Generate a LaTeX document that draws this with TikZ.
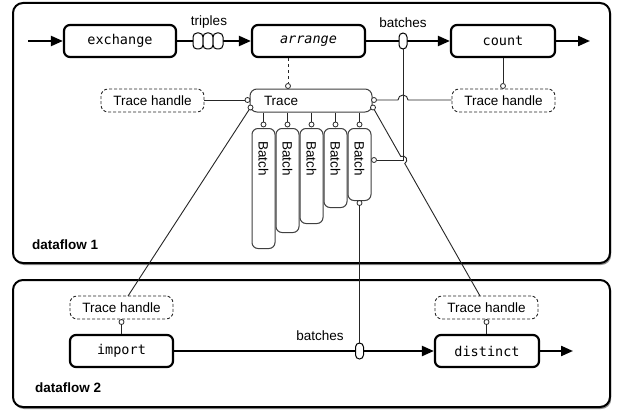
\documentclass[tikz,border=0pt]{standalone}
\usepackage{fontspec}
\setmainfont{Liberation Sans}
\setmonofont{DejaVu Sans Mono}
\usetikzlibrary{arrows.meta,shadows}
\begin{document}
\begin{tikzpicture}[x=1pt,y=1pt,
  txt/.style={font=\fontsize{13.5}{15}\selectfont, inner sep=0pt},
  bold/.style={font=\bfseries\fontsize{13.5}{15}\selectfont, inner sep=0pt, anchor=west},
  frame/.style={draw=black, line width=2pt, rounded corners=10pt, fill=white,
    drop shadow={shadow xshift=1.2pt, shadow yshift=-2pt, opacity=0.55, fill=black!80}},
  op/.style={draw, line width=2.2pt, rounded corners=6pt, minimum width=112pt, minimum height=32pt,
    font=\ttfamily\fontsize{13.5}{15}\selectfont, inner sep=0pt, fill=white},
  handle/.style={draw=black!85, dash pattern=on 3pt off 2pt, line width=0.9pt, rounded corners=7pt, minimum width=103pt,
    minimum height=23pt, font=\fontsize{13.5}{15}\selectfont, inner sep=0pt, fill=white},
  tracebox/.style={draw=black!75, line width=1pt, rounded corners=7pt, fill=white, inner sep=0pt},
  batchbox/.style={draw=black!75, line width=1pt, rounded corners=6pt, fill=white, minimum width=23pt,
    inner sep=0pt, anchor=north},
  port/.style={circle, draw=black!85, line width=0.8pt, fill=white, minimum size=5pt, inner sep=0pt},
  bead/.style={draw=black, line width=1pt, rounded corners=4pt, fill=white, minimum width=10pt,
    minimum height=16pt, inner sep=0pt},
  flow/.style={line width=2.2pt, -{Triangle[length=12pt,width=10pt]}},
  thinline/.style={draw=black!85, line width=0.9pt},
]
\useasboundingbox (0,0) rectangle (618,-412);
% frames
\draw[frame] (13,-3) rectangle (610,-263);
\draw[frame] (13,-280) rectangle (610,-407);
\node[bold] (df1) at (32,-245) {dataflow 1};
\node[bold] (df2) at (35,-388) {dataflow 2};

% operators
\node[op] (exchange) at (120,-41) {exchange};
\node[op, minimum width=113pt] (arrange) at (308.5,-41) {\itshape arrange};
\node[op, minimum width=104pt] (count) at (503,-41) {count};
\node[op, minimum width=103pt] (import) at (121.5,-351) {import};
\node[op, minimum width=104pt] (distinct) at (487,-351) {distinct};

\coordinate (in1) at (28,-41);
\coordinate (out1) at (590,-41);
\coordinate (out2) at (573,-351);

\draw[flow] (in1) -- (exchange);
\draw[flow] (exchange) -- (arrange);
\draw[flow] (arrange) -- (count);
\draw[flow] (count) -- (out1);
\draw[flow] (import) -- (distinct);
\draw[flow] (distinct) -- (out2);

% beads
\node[bead] (t1) at (198,-41) {};
\node[bead] (t2) at (208,-41) {};
\node[bead] (t3) at (218,-41) {};
\node[txt] (triplesl) at (209,-22) {triples};
\node[bead, minimum width=8pt] (b1) at (403,-41) {};
\node[txt] (batchesl1) at (403,-23) {batches};
\node[bead, minimum width=8pt] (b2) at (359.5,-351) {};
\node[txt] (batchesl2) at (320,-336) {batches};

% trace
\node[tracebox, minimum width=122pt, minimum height=23pt] (trace) at (311,-100.5) {};
\node[txt] (tracel) at (281,-100.5) {Trace};

% handles
\node[handle] (h1) at (152.5,-100.5) {Trace handle};
\node[handle] (h2) at (503.5,-100.5) {Trace handle};
\node[handle] (h3) at (121.5,-307.5) {Trace handle};
\node[handle] (h4) at (486.5,-307.5) {Trace handle};

% batches
\node[batchbox, minimum height=120pt] (bt1) at (263.5,-128) {};
\node[batchbox, minimum height=104pt] (bt2) at (287.5,-128) {};
\node[batchbox, minimum height=95pt] (bt3) at (311.5,-128) {};
\node[batchbox, minimum height=79pt] (bt4) at (335.5,-128) {};
\node[batchbox, minimum height=72pt] (bt5) at (359.5,-128) {};
\node[txt, rotate=-90] (btl1) at (263.5,-158.5) {Batch};
\node[txt, rotate=-90] (btl2) at (287.5,-158.5) {Batch};
\node[txt, rotate=-90] (btl3) at (311.5,-158.5) {Batch};
\node[txt, rotate=-90] (btl4) at (335.5,-158.5) {Batch};
\node[txt, rotate=-90] (btl5) at (359.5,-158.5) {Batch};

% ports
\node[port] (pa) at (288,-86) {};
\node[port] (pc) at (503,-86) {};
\node[port] (ptl1) at (247.5,-100) {};
\node[port] (ptl2) at (250.5,-107.5) {};
\node[port] (ptr1) at (374,-100) {};
\node[port] (ptr2) at (373,-107.5) {};
\node[port] (pb1) at (263.5,-124.5) {};
\node[port] (pb2) at (287.5,-124.5) {};
\node[port] (pb3) at (311.5,-124.5) {};
\node[port] (pb4) at (335.5,-124.5) {};
\node[port] (pb5) at (359.5,-124.5) {};
\node[port] (pb5r) at (374,-160) {};
\node[port] (pb5b) at (359.5,-203) {};
\node[port] (ph3) at (121.5,-322) {};
\node[port] (ph4) at (486.5,-322) {};

% connectors
\draw[thinline, dashed] (pa |- arrange.south) -- (pa.north);
\draw[thinline] (pc |- count.south) -- (pc.north);
\draw[thinline] (h1.east |- ptl1) -- (ptl1.west);
\coordinate (j1) at (398,-100);
\draw[thinline] (ptr1.east) -- (j1) arc[start angle=180, end angle=0, radius=5] -- (h2.west |- ptr1);
\foreach \i in {1,...,5} {
  \draw[thinline] (pb\i |- trace.south) -- (pb\i.north);
}
\coordinate (corner) at (403,-160);
\draw[thinline] (b1.south) -- (corner) -- (pb5r.east);
\draw[thinline] (pb5b.south) -- (b2.north);
\coordinate (jA) at (400.83,-156.52);
\coordinate (h4end) at (480,-296);
\coordinate (h3end) at (128,-296);
\draw[thinline] (ptr2) -- (jA) arc[start angle=119.6, end angle=-60.4, radius=4] -- (h4end);
\draw[thinline] (ptl2) -- (h3end);
\draw[thinline] (import.north) -- (ph3.south);
\draw[thinline] (ph4 |- distinct.north) -- (ph4.south);
\end{tikzpicture}
\end{document}
